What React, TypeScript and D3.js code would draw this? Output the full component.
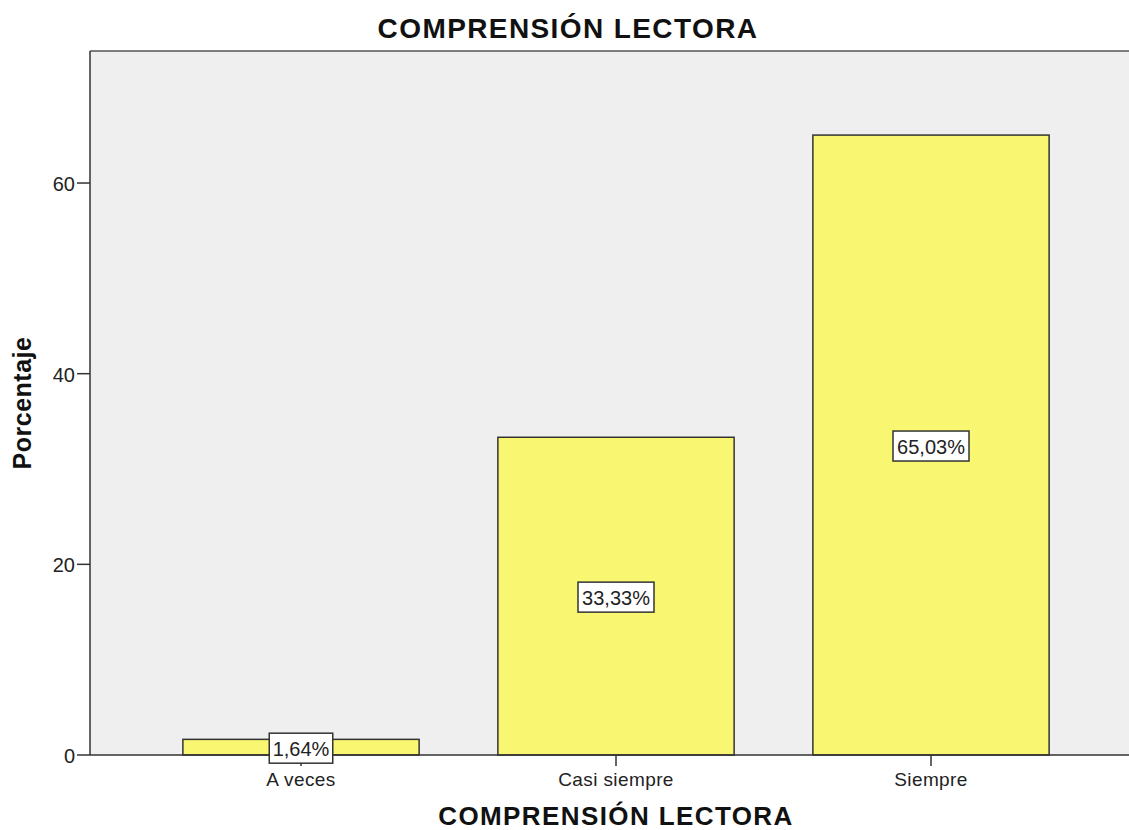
import React, { useEffect } from "react";
import * as d3 from "d3";

const categories = ["A veces", "Casi siempre", "Siempre"];
const values = [1.64, 33.33, 65.03];
const valueLabels = ["1,64%", "33,33%", "65,03%"];
const yTicks = [0, 20, 40, 60];
const title = "COMPRENSIÓN LECTORA";
const xTitle = "COMPRENSIÓN LECTORA";
const yTitle = "Porcentaje";

const W = 1129;
const H = 830;
const plotLeft = 90;
const plotRight = 1142;
const plotTop = 51;
const plotBottom = 755;

export default function App() {
  useEffect(() => {
    document.body.style.margin = "0";
  }, []);

  const y = d3.scaleLinear().domain([0, 73.85]).range([plotBottom, plotTop]);
  const x = d3
    .scaleBand<string>()
    .domain(categories)
    .range([143.5, 1088.5])
    .paddingInner(0.25)
    .paddingOuter(0.125);

  const font = "'Liberation Sans', Arial, sans-serif";

  return (
    <svg width={W} height={H} style={{ display: "block" }} fontFamily={font}>
      <rect x={0} y={0} width={W} height={H} fill="#ffffff" />
      <rect x={plotLeft} y={plotTop} width={plotRight - plotLeft} height={plotBottom - plotTop} fill="#efefef" />
      <line x1={plotLeft} x2={plotRight} y1={plotTop} y2={plotTop} stroke="#555" strokeWidth={1.5} />
      {categories.map((c, i) => {
        const x0 = x(c)!;
        const bw = x.bandwidth();
        const yTop = y(values[i]);
        const cx = x0 + bw / 2;
        return (
          <g key={c}>
            <rect x={x0} y={yTop} width={bw} height={y(0) - yTop} fill="#f9f771" stroke="#333" strokeWidth={1.5} />
            <line x1={cx} x2={cx} y1={plotBottom} y2={plotBottom + 11} stroke="#333" strokeWidth={1.5} />
            <text x={cx} y={plotBottom + 31} textAnchor="middle" fontSize={19} letterSpacing={0.4} fill="#222">{c}</text>
          </g>
        );
      })}
      <line x1={plotLeft} x2={plotRight} y1={plotBottom} y2={plotBottom} stroke="#333" strokeWidth={1.5} />
      <line x1={plotLeft} x2={plotLeft} y1={plotTop} y2={plotBottom} stroke="#333" strokeWidth={1.5} />
      {yTicks.map((t) => (
        <g key={t}>
          <line x1={plotLeft - 13} x2={plotLeft} y1={y(t)} y2={y(t)} stroke="#333" strokeWidth={1.5} />
          <text x={plotLeft - 15} y={y(t) + 8} textAnchor="end" fontSize={20} fill="#222">{t}</text>
        </g>
      ))}
      {categories.map((c, i) => {
        const cx = x(c)! + x.bandwidth() / 2;
        const cy = (y(values[i]) + y(0)) / 2 + 1;
        const boxW = valueLabels[i].length * 12.5 + 1;
        return (
          <g key={c + "-lbl"}>
            <rect x={cx - boxW / 2} y={cy - 15} width={boxW} height={30} fill="#ffffff" stroke="#333" strokeWidth={1.5} />
            <text x={cx} y={cy + 8} textAnchor="middle" fontSize={20} fill="#222">{valueLabels[i]}</text>
          </g>
        );
      })}
      <text x={568} y={38} textAnchor="middle" fontSize={28} letterSpacing={1.4} fontWeight="bold" fill="#111">{title}</text>
      <text x={616} y={825} textAnchor="middle" fontSize={26} letterSpacing={1.4} fontWeight="bold" fill="#111">{xTitle}</text>
      <text transform={`translate(31, ${403}) rotate(-90)`} textAnchor="middle" fontSize={25} letterSpacing={0.5} fontWeight="bold" fill="#111">{yTitle}</text>
    </svg>
  );
}
